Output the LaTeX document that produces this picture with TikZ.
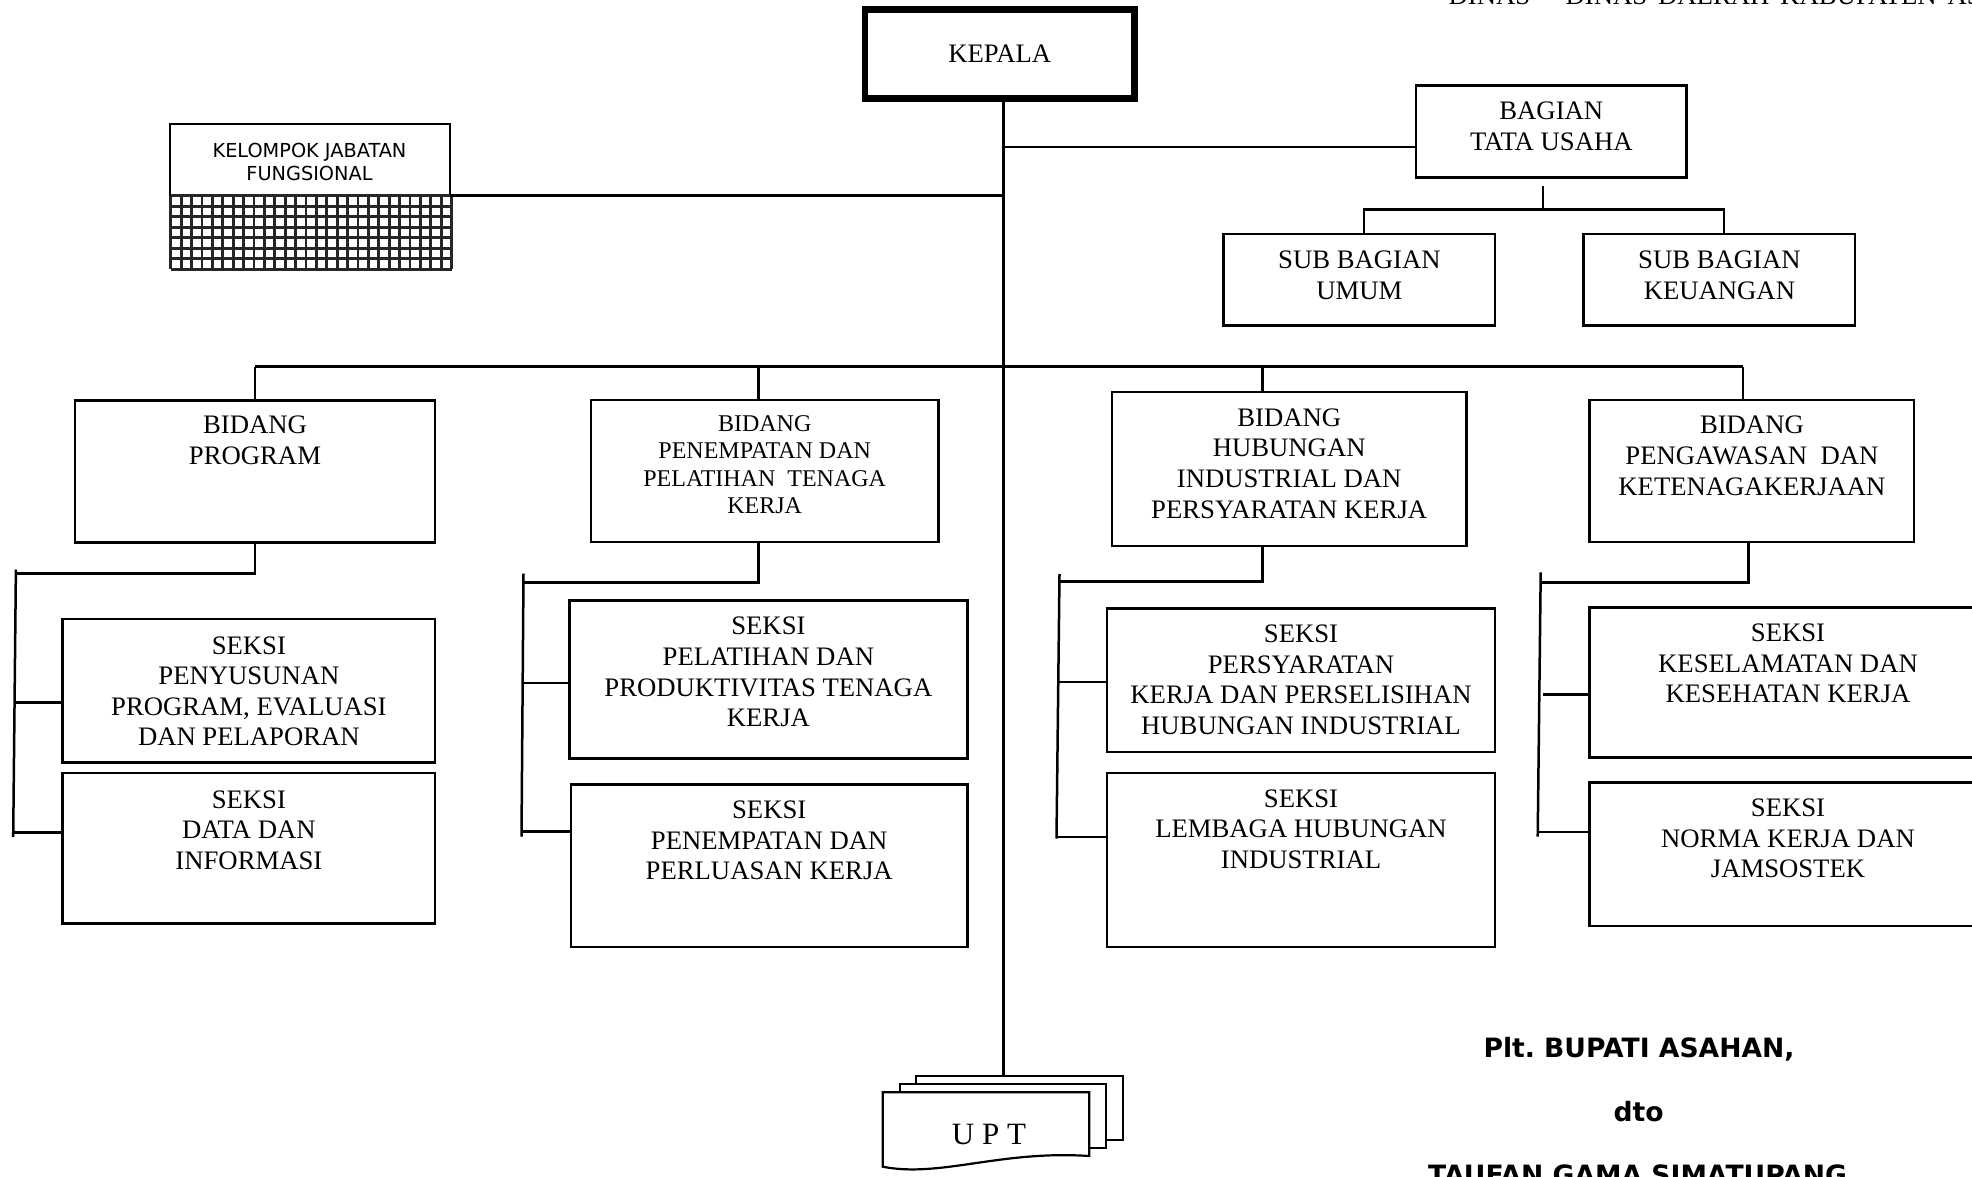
\documentclass[tikz,border=0pt]{standalone}
\usepackage{fontspec}
\setmainfont{Liberation Serif}
\newfontfamily\labelsans{DejaVu Sans}
\begin{document}
\begin{tikzpicture}[x=1pt,y=-1pt,
  box/.style={draw, rectangle, inner sep=0pt, outer sep=0pt, anchor=north west, line width=2.5pt},
  lbl/.style={font=\fontsize{26.7}{30.6}\selectfont, align=center, inner sep=0pt, anchor=north},
  lblsmall/.style={font=\fontsize{24}{27.4}\selectfont, align=center, inner sep=0pt, anchor=north},
  link/.style={draw, line width=2.5pt},
  gridline/.style={draw, line width=2.8pt, black!85},
  sheet/.style={draw, fill=white, line width=2.2pt},
  sig/.style={font=\labelsans\bfseries\fontsize{26.6}{30}\selectfont, inner sep=0pt, anchor=base}]
\path[use as bounding box] (0,0) rectangle (1972,1177);
\clip (0,0) rectangle (1972,1177);

% page heading (runs off the top edge)
\node[font=\fontsize{26.7}{30.6}\selectfont, inner sep=0pt, anchor=base west] (head) at (1448.5,4.5) {\spaceskip 11pt\relax DINAS – DINAS DAERAH KABUPATEN ASAHAN};

% boxes
\node[box, line width=6.7pt, minimum width=269.4, minimum height=88.9] (kepala) at (865,9.4) {};
\node[box, line width=2pt, minimum width=280, minimum height=71.3] (kjf) at (169.5,124.4) {};
\node[box, minimum width=270.6, minimum height=91.8] (btu) at (1416,85.5) {};
\node[box, minimum width=271.3, minimum height=91.7] (sbu) at (1223.7,234) {};
\node[box, minimum width=271.3, minimum height=91.7] (sbk) at (1583.7,234) {};
\node[box, minimum width=360, minimum height=142] (bp) at (75,400.5) {};
\node[box, minimum width=347.9, minimum height=142] (bpen) at (590.8,400) {};
\node[box, minimum width=354.8, minimum height=153.8] (bhub) at (1111.8,392.2) {};
\node[box, minimum width=324.7, minimum height=142] (bpeng) at (1589.5,400) {};
\node[box, minimum width=372.3, minimum height=143.3] (spy) at (62.7,619) {};
\node[box, minimum width=372.3, minimum height=150.5] (sdt) at (62.7,772.8) {};
\node[box, minimum width=397.8, minimum height=157.9] (spl) at (569.5,600.5) {};
\node[box, minimum width=396.3, minimum height=162.4] (spn) at (571,784.6) {};
\node[box, minimum width=388.4, minimum height=143.5] (sps) at (1106.8,608.5) {};
\node[box, minimum width=388.4, minimum height=173.8] (slb) at (1106.8,773.2) {};
\node[box, minimum width=398.7, minimum height=150] (sks) at (1589.3,607.7) {};
\node[box, minimum width=398.7, minimum height=143.7] (snr) at (1589.3,782.3) {};

% hatched block under the functional group box
\foreach \i in {0,...,27} \draw[gridline] ({170.7+\i*10.4},195.7) -- ++(0,73.6);
\foreach \j in {0,...,7} \draw[gridline] (170.7,{195.7+\j*10.514}) -- ++(280.8,0);

% box texts
\node[lbl] (tkepala) at (999.7,44.7) {KEPALA};
\node[font=\labelsans\fontsize{19.3}{23}\selectfont, align=center, inner sep=0pt, anchor=north] (tkjf) at (309.5,143.4) {KELOMPOK JABATAN\\FUNGSIONAL};
\node[lbl] (tbtu) at (1551.3,102) {BAGIAN\\TATA USAHA};
\node[lbl] (tsbu) at (1359.4,251) {SUB BAGIAN\\UMUM};
\node[lbl] (tsbk) at (1719.4,251) {SUB BAGIAN\\KEUANGAN};
\node[lbl] (tbp) at (255,416) {BIDANG\\PROGRAM};
\node[lblsmall] (tbpen) at (764.7,415.3) {BIDANG\\PENEMPATAN DAN\\PELATIHAN\ \ TENAGA\\KERJA};
\node[lbl] (tbhub) at (1289.2,408.5) {BIDANG\\HUBUNGAN\\INDUSTRIAL DAN\\PERSYARATAN KERJA};
\node[lbl] (tbpeng) at (1751.9,416) {BIDANG\\PENGAWASAN\ \ DAN\\KETENAGAKERJAAN};
\node[lbl] (tspy) at (248.9,636.3) {SEKSI\\PENYUSUNAN\\PROGRAM, EVALUASI\\DAN PELAPORAN};
\node[lbl] (tsdt) at (248.9,790.3) {SEKSI\\DATA DAN\\INFORMASI};
\node[lbl] (tspl) at (768.4,617) {SEKSI\\PELATIHAN DAN\\PRODUKTIVITAS TENAGA\\KERJA};
\node[lbl] (tspn) at (769.2,800.8) {SEKSI\\PENEMPATAN DAN\\PERLUASAN KERJA};
\node[lbl] (tsps) at (1301,624.8) {SEKSI\\PERSYARATAN\\KERJA DAN PERSELISIHAN\\HUBUNGAN INDUSTRIAL};
\node[lbl] (tslb) at (1301,789.3) {SEKSI\\LEMBAGA HUBUNGAN\\INDUSTRIAL};
\node[lbl] (tsks) at (1788,623.7) {SEKSI\\KESELAMATAN DAN\\KESEHATAN KERJA};
\node[lbl] (tsnr) at (1788,798.7) {SEKSI\\NORMA KERJA DAN\\JAMSOSTEK};

% UPT: stacked document sheets
\draw[sheet] (915.7,1075.7) rectangle (1123.3,1140);
\draw[sheet] (900,1083.7) rectangle (1105.7,1148.3);
\draw[sheet] (882.7,1092.3) -- (1089.3,1092.3) -- (1089.3,1156)
  .. controls (1000,1150) and (940,1178) .. (882.7,1166.7) -- cycle;
\node[font=\fontsize{31}{31}\selectfont, inner sep=0pt, anchor=base] (upt) at (989,1144.3) {U P T};

% main trunk
\coordinate (trunk) at (1003.3,0);
\coordinate (uptin) at (1003.3,1075.7);
\draw[link] (kepala.south -| trunk) -- (uptin);
\draw[link] (kjf.south east) -- (kjf.south east -| trunk);

% secretariat branch
\coordinate (tu) at (1003.3,147.2);
\draw[link] (tu) -- (tu -| btu.west);
\coordinate (tua) at (1543,186);
\coordinate (tub) at (1543,209.5);
\draw[link] (tua) -- (tub);
\draw[link] ([xshift=4.5pt]sbu.north) |- (tub) -| ([xshift=4.6pt]sbk.north);

% department bus
\coordinate (b1) at (255,366.5);
\coordinate (b2) at (758.4,366.5);
\coordinate (b3) at (1262.7,366.5);
\coordinate (b4) at (1743,366.5);
\draw[link] (b1) -- (b4);
\draw[link] (b1) -- (b1 |- bp.north);
\draw[link] (b2) -- (b2 |- bpen.north);
\draw[link] (b3) -- (b3 |- bhub.north);
\draw[link] (b4) -- (b4 |- bpeng.north);

% sections under BIDANG PROGRAM
\coordinate (p1) at (255,573.5);
\coordinate (v1t) at (15.9,569.5);
\coordinate (v1b) at (13.2,837);
\coordinate (h1a) at (15.2,702.3);
\coordinate (h1b) at (13.3,832.3);
\draw[link] (p1 |- bp.south) -- (p1) -- (p1 -| v1t);
\draw[link] (v1t) -- (v1b);
\draw[link] (h1a) -- (h1a -| spy.west);
\draw[link] (h1b) -- (h1b -| sdt.west);

% sections under BIDANG PENEMPATAN
\coordinate (p2) at (758.4,582.3);
\coordinate (v2t) at (523.5,573.5);
\coordinate (v2b) at (521.5,836.5);
\coordinate (h2a) at (523.2,683);
\coordinate (h2b) at (521.7,831.3);
\draw[link] (p2 |- bpen.south) -- (p2) -- (p2 -| v2t);
\draw[link] (v2t) -- (v2b);
\draw[link] (h2a) -- (h2a -| spl.west);
\draw[link] (h2b) -- (h2b -| spn.west);

% sections under BIDANG HUBUNGAN
\coordinate (p3) at (1262.7,581.5);
\coordinate (v3t) at (1059.5,574);
\coordinate (v3b) at (1056.5,838.5);
\coordinate (h3a) at (1059.3,682.2);
\coordinate (h3b) at (1056.6,836.8);
\draw[link] (p3 |- bhub.south) -- (p3) -- (p3 -| v3t);
\draw[link] (v3t) -- (v3b);
\draw[link] (h3a) -- (h3a -| sps.west);
\draw[link] (h3b) -- (h3b -| slb.west);

% sections under BIDANG PENGAWASAN
\coordinate (p4) at (1748.3,582.3);
\coordinate (v4t) at (1540.7,572.3);
\coordinate (v4b) at (1537.7,836.5);
\coordinate (h4a) at (1543.3,694.3);
\coordinate (h4b) at (1537.8,832);
\draw[link] (p4 |- bpeng.south) -- (p4) -- (p4 -| v4t);
\draw[link] (v4t) -- (v4b);
\draw[link] (h4a) -- (h4a -| sks.west);
\draw[link] (h4b) -- (h4b -| snr.west);

% signature block
\node[sig] (sig1) at (1639,1057) {Plt.\ BUPATI ASAHAN,};
\node[sig] (sig2) at (1638.6,1121) {dto};
\node[sig] (sig3) at (1637.5,1184.5) {TAUFAN GAMA SIMATUPANG};
\end{tikzpicture}
\end{document}
